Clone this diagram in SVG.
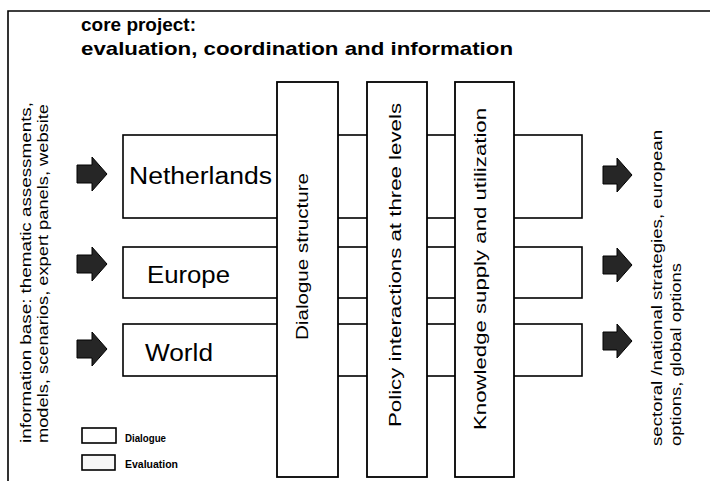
<svg xmlns="http://www.w3.org/2000/svg" width="710" height="481" viewBox="0 0 710 481">
<style>
.box{fill:#fff;stroke:#000;stroke-width:1.6}
.col{fill:#fff;stroke:#000;stroke-width:1.8}
.frame{fill:none;stroke:#000;stroke-width:1.6}
.title{font-family:"Liberation Sans",Arial,sans-serif;font-weight:bold;font-size:19px;fill:#000}
.row{font-family:"Liberation Sans",Arial,sans-serif;font-size:23px;fill:#000}
.coltxt{font-family:"Liberation Sans",Arial,sans-serif;font-size:16px;fill:#000}
.side{font-family:"Liberation Sans",Arial,sans-serif;font-size:14px;fill:#000}
.leg{font-family:"Liberation Sans",Arial,sans-serif;font-weight:bold;font-size:11px;fill:#000}
.arr{fill:#262626;stroke:#000;stroke-width:1}
</style>
<rect x="0" y="0" width="710" height="481" fill="#fff"/>
<path class="frame" d="M8,481 L8,11 L710,11"/>
<g id="title">
<text class="title" x="81" y="31" textLength="115" lengthAdjust="spacingAndGlyphs">core project:</text>
<text class="title" x="81" y="55" textLength="432" lengthAdjust="spacingAndGlyphs">evaluation, coordination and information</text>
</g>
<g id="input-label">
<text class="side" transform="translate(31,443) rotate(-90)" textLength="341" lengthAdjust="spacingAndGlyphs">information base: thematic assessments,</text>
<text class="side" transform="translate(48,443) rotate(-90)" textLength="339" lengthAdjust="spacingAndGlyphs">models, scenarios, expert panels, website</text>
</g>
<g id="output-label">
<text class="side" transform="translate(662,446) rotate(-90)" textLength="316" lengthAdjust="spacingAndGlyphs">sectoral /national strategies, european</text>
<text class="side" transform="translate(681,446) rotate(-90)" textLength="183" lengthAdjust="spacingAndGlyphs">options, global options</text>
</g>
<g id="netherlands">
<rect class="box" x="123" y="135" width="459" height="83"/>
<text class="row" x="129" y="184" textLength="143" lengthAdjust="spacingAndGlyphs">Netherlands</text>
</g>
<g id="europe">
<rect class="box" x="123" y="247" width="459" height="51"/>
<text class="row" x="147" y="283" textLength="83" lengthAdjust="spacingAndGlyphs">Europe</text>
</g>
<g id="world">
<rect class="box" x="123" y="324" width="459" height="52"/>
<text class="row" x="145" y="361" textLength="68" lengthAdjust="spacingAndGlyphs">World</text>
</g>
<g id="dialogue-structure">
<rect class="col" x="277" y="82" width="61" height="395"/>
<text class="coltxt" transform="translate(308,340) rotate(-90)" textLength="167" lengthAdjust="spacingAndGlyphs">Dialogue structure</text>
</g>
<g id="policy-interactions">
<rect class="col" x="367" y="82" width="60" height="395"/>
<text class="coltxt" transform="translate(401,427) rotate(-90)" textLength="324" lengthAdjust="spacingAndGlyphs">Policy interactions at three levels</text>
</g>
<g id="knowledge-supply">
<rect class="col" x="455" y="82" width="59" height="395"/>
<text class="coltxt" transform="translate(486,430) rotate(-90)" textLength="322" lengthAdjust="spacingAndGlyphs">Knowledge supply and utilization</text>
</g>
<g id="connectors">
<path class="arr" d="M77,165 L92,165 L92,157 L107,174 L92,191 L92,183 L77,183 Z"/>
<path class="arr" d="M77,255 L92,255 L92,247 L107,264 L92,281 L92,273 L77,273 Z"/>
<path class="arr" d="M77,340 L92,340 L92,332 L107,349 L92,366 L92,358 L77,358 Z"/>
<path class="arr" d="M603,166 L617,166 L617,158 L632,175 L617,192 L617,184 L603,184 Z"/>
<path class="arr" d="M603,256 L617,256 L617,248 L632,265 L617,282 L617,274 L603,274 Z"/>
<path class="arr" d="M603,332 L617,332 L617,324 L632,341 L617,358 L617,350 L603,350 Z"/>
</g>
<g id="legend">
<rect class="box" x="82" y="428" width="34" height="15"/>
<text class="leg" x="125" y="442" textLength="41" lengthAdjust="spacingAndGlyphs">Dialogue</text>
<rect class="box" x="82" y="455" width="33" height="15" style="fill:#f7f7f7"/>
<text class="leg" x="125" y="468" textLength="53" lengthAdjust="spacingAndGlyphs">Evaluation</text>
</g>
</svg>
